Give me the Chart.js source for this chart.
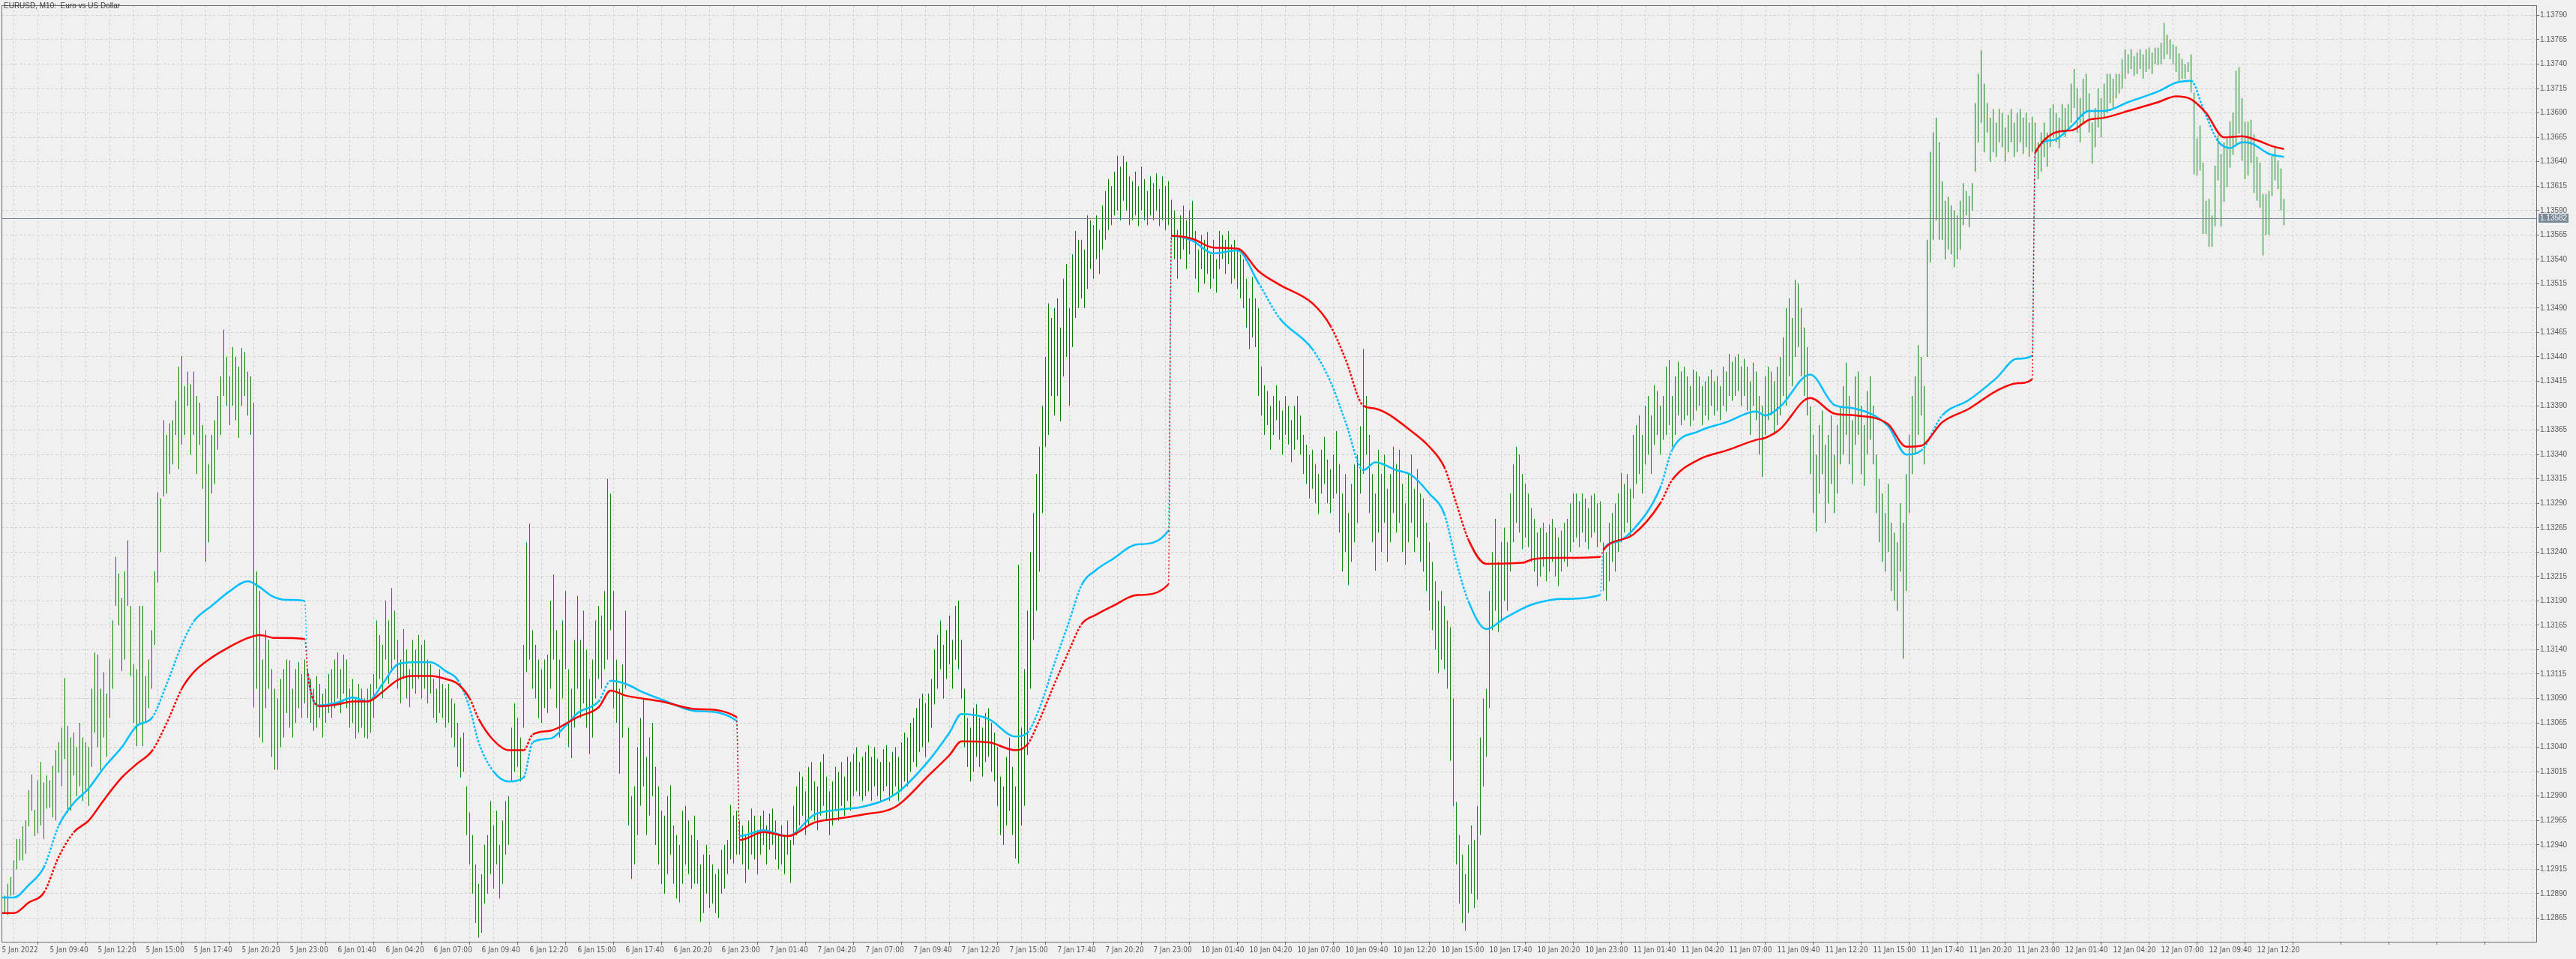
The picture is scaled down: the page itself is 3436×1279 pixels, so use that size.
<!DOCTYPE html>
<html>
<head>
<meta charset="utf-8">
<script src="https://cdn.jsdelivr.net/npm/chart.js@4.4.1/dist/chart.umd.min.js"></script>
<style>
  html, body { margin: 0; padding: 0; background: #f0f0f0; overflow: hidden; }
  canvas { display: block; }
</style>
</head>
<body>
<canvas id="chart" width="3436" height="1279"></canvas>
<script>
// EURUSD M10 bars, values in points (0.00001) above 1.12800, [low, high] per bar
const BASE = 1.128;
const PT = 0.00001;
const dayStart = [0, 102, 246, 390, 534, 678];

const day5 = [[70,88],[70,88],[68,100],[88,107],[89,124],[115,146],[124,146],[124,159],[131,165],[159,196],
  [175,212],[149,176],[152,206],[160,225],[146,204],[177,211],[178,206],[168,221],[165,237],[214,245],
  [200,260],[228,311],[173,262],[175,250],[211,255],[190,240],[200,265],[185,250],[196,245],[180,240],
  [220,300],[255,337],[240,335],[215,300],[250,317],[230,295],[270,330],[300,370],[385,435],[365,418],
  [318,393],[330,420],[385,452],[313,385],[265,325],[241,320],[265,385],[241,385],[265,313],[280,330],
  [300,360],[345,420],[409,501],[440,495],[497,575],[500,560],[520,572],[530,575],[560,595],[525,630],
  [550,641],[560,610],[590,625],[540,612],[560,625],[520,600],[550,593],[505,570],[430,560],[450,530],
  [500,560],[510,575],[545,600],[560,620],[600,668],[590,640],[570,620],[590,650],[575,640],[557,630],
  [590,649],[600,645],[580,625],[560,620],[281,593],[300,420],[250,400],[245,330],[280,360],[300,350],
  [230,320],[217,300],[217,290],[240,310],[250,320],[275,330],[260,329],[250,300],[265,320],[280,327],
  [270,315],[285,330]];

const day6 = [[270,320],[265,310],[257,300],[260,313],[270,305],[250,295],[265,300],[275,315],[270,320],[280,330],
  [290,337],[275,320],[295,335],[280,330],[260,300],[265,310],[249,290],[255,305],[260,300],[250,290],
  [249,300],[255,305],[270,315],[300,370],[310,355],[290,345],[330,390],[305,370],[320,403],[330,380],
  [300,350],[285,330],[310,361],[290,340],[281,320],[300,350],[295,340],[310,355],[290,345],[300,350],
  [285,330],[295,325],[270,310],[265,300],[275,320],[270,305],[260,300],[265,305],[250,290],[240,285],
  [220,265],[209,250],[215,255],[150,200],[120,173],[90,150],[60,120],[45,100],[50,110],[80,140],
  [90,150],[110,185],[95,160],[120,175],[85,140],[100,165],[130,185],[140,190],[205,260],[215,285],
  [220,270],[205,250],[260,345],[317,450],[330,469],[300,360],[290,345],[270,330],[265,320],[280,330],
  [275,335],[300,390],[330,417],[280,360],[250,330],[290,370],[320,400],[240,320],[229,300],[260,350],
  [300,395],[270,350],[285,380],[260,340],[233,310],[250,330],[290,370],[310,385],[300,375],[320,400],
  [330,515],[360,500],[280,400],[265,330],[213,300],[250,325],[300,380],[160,260],[105,190],[120,200],
  [150,240],[180,270],[200,289],[150,230],[170,250],[190,265],[140,220],[120,200],[100,175],[90,170],
  [110,190],[130,201],[100,160],[85,150],[81,140],[100,175],[120,180],[110,165],[95,150],[100,170],
  [100,145],[61,120],[70,130],[90,140],[75,130],[80,120],[70,110],[65,115],[90,135],[95,140],
  [110,145],[125,181],[121,170],[130,175]];

const day7 = [[130,165],[120,160],[101,150],[115,165],[130,177],[125,170],[110,155],[130,170],[140,175],[120,160],
  [135,172],[140,177],[125,165],[115,150],[120,160],[110,150],[130,165],[101,145],[140,180],[150,200],
  [160,215],[170,210],[150,195],[160,220],[175,225],[165,205],[155,200],[170,225],[180,233],[165,210],
  [150,195],[160,205],[175,220],[165,215],[180,225],[170,210],[185,230],[175,225],[190,233],[195,240],
  [190,225],[185,230],[190,235],[195,242],[185,230],[200,240],[190,228],[184,225],[195,238],[200,242],
  [185,225],[190,235],[200,240],[185,230],[195,245],[205,255],[200,250],[215,265],[225,270],[220,280],
  [235,290],[240,295],[230,285],[245,295],[260,310],[284,340],[300,355],[320,370],[290,345],[310,360],
  [325,375],[300,350],[330,385],[320,390],[290,350],[240,300],[220,270],[205,260],[215,280],[230,284],
  [220,270],[210,260],[225,275],[230,280],[215,265],[205,255],[180,240],[150,210],[140,200],[160,230],
  [175,250],[150,220],[126,200],[121,427],[160,260],[180,320],[232,380],[300,440],[350,480],[380,520],
  [420,548],[480,590],[548,640],[560,695],[600,680],[580,690],[600,700],[574,670],[620,720],[640,735],
  [590,690],[650,745],[680,769],[690,760],[700,760],[690,750],[710,785],[730,780],[720,775],[740,785],
  [725,770],[750,795],[760,810],[770,822],[775,815],[785,830],[790,846],[780,835],[800,846],[790,840],
  [775,825],[780,820],[785,830],[774,815],[790,835],[780,822],[775,810],[785,825],[780,818],[790,828],
  [774,812],[780,825],[770,815],[775,820]];

const day10 = [[760,801],[740,790],[720,770],[740,785],[750,795],[730,780],[745,790],[760,800],[720,769],[706,750],
  [730,765],[715,760],[725,768],[710,745],[720,760],[706,740],[730,769],[740,765],[725,760],[735,769],
  [715,755],[720,760],[710,750],[700,745],[690,740],[670,720],[648,700],[660,722],[650,700],[600,690],
  [580,630],[560,611],[570,605],[545,590],[560,600],[575,611],[555,595],[540,585],[560,600],[550,590],
  [532,575],[545,590],[555,600],[540,580],[520,560],[510,550],[495,540],[505,545],[490,530],[479,520],
  [500,545],[510,558],[490,535],[480,525],[495,540],[500,564],[460,530],[420,500],[440,520],[406,480],
  [430,510],[450,530],[470,540],[500,569],[520,648],[540,600],[480,560],[450,520],[421,500],[460,545],
  [440,520],[470,540],[430,505],[450,520],[480,548],[460,530],[470,545],[440,510],[427,490],[450,520],
  [470,540],[440,505],[455,525],[430,500],[420,495],[400,470],[380,450],[360,430],[340,410],[316,390],
  [330,400],[320,385],[300,370],[226,363],[180,290],[120,184],[80,150],[60,130],[52,110],[70,140],
  [90,160],[75,145],[84,180],[150,250],[200,290],[230,300],[280,400],[360,440],[380,474],[358,430],
  [370,450],[390,465],[380,450],[420,500],[450,530],[470,548],[460,540],[443,520],[455,510],[445,500],
  [430,485],[420,474],[405,460],[415,465],[425,470],[410,460],[420,468],[430,474],[415,465],[405,455],
  [420,462],[430,470],[425,474],[440,490],[450,500],[455,500],[445,492],[460,500],[450,495],[443,485],
  [455,498],[460,500],[445,490],[450,492]];

const day11 = [[400,450],[390,440],[410,470],[430,480],[420,490],[440,500],[450,521],[460,510],[470,520],[455,505],
  [495,560],[510,570],[520,580],[500,560],[530,590],[540,600],[520,580],[550,611],[560,605],[540,590],
  [555,600],[560,630],[570,637],[548,600],[560,620],[580,635],[570,625],[575,630],[580,620],[569,610],
  [575,627],[585,625],[590,620],[570,610],[580,615],[575,620],[590,627],[580,615],[585,620],[575,610],
  [590,630],[584,625],[600,643],[595,635],[600,640],[605,643],[590,630],[600,638],[585,630],[560,615],
  [590,634],[575,625],[540,600],[517,590],[560,620],[575,630],[580,625],[560,615],[570,630],[580,640],
  [600,660],[590,690],[620,700],[610,680],[640,719],[650,715],[620,690],[600,670],[580,650],[520,589],
  [480,560],[461,540],[500,570],[520,585],[470,550],[490,560],[510,580],[480,540],[500,570],[530,589],
  [540,610],[560,634],[530,600],[510,575],[550,620],[560,625],[520,590],[508,570],[540,605],[555,620],
  [530,590],[480,540],[450,515],[430,500],[420,480],[440,510],[400,470],[390,460],[380,450],[420,490],
  [331,470],[400,520],[480,560],[520,600],[540,620],[560,652],[580,640],[530,610],[640,760],[737,850],
  [760,870],[780,885],[760,860],[760,820],[740,800],[750,804],[745,795],[732,790],[740,785],[750,800],
  [775,818],[785,810],[773,805],[790,818],[830,900],[860,930],[880,954],[850,920],[870,900],[840,885],
  [850,894],[845,880],[860,894],[855,890],[840,875],[850,888],[860,894],[845,880],[850,890],[860,894],
  [848,885],[855,890],[845,880],[850,886]];

const day12 = [[840,880],[822,860],[830,870],[845,880],[835,870],[855,895],[865,899],[860,890],[854,885],[870,899],
  [865,895],[875,899],[880,920],[895,935],[870,915],[860,905],[880,925],[890,930],[870,910],[838,880],
  [855,895],[875,915],[865,905],[885,920],[890,930],[900,930],[895,925],[905,930],[910,930],[915,945],
  [925,955],[930,950],[935,955],[928,948],[930,952],[935,955],[925,950],[932,955],[935,957],[930,952],
  [940,957],[939,957],[940,962],[945,982],[950,970],[945,965],[940,960],[932,958],[923,951],[925,945],
  [925,940],[932,942],[911,950],[827,911],[826,864],[831,877],[766,839],[766,800],[753,802],[753,785],
  [774,836],[821,867],[774,848],[799,860],[814,864],[834,881],[847,890],[857,933],[869,937],[841,905],
  [822,881],[826,881],[839,883],[808,868],[800,845],[793,839],[744,807],[765,807],[765,810],[805,846],
  [821,854],[812,841],[790,833],[775,802]];

// daily-reset averages, [bar index, points]
const cyanLine = [[0,86],[4,86],[9,99],[14,117],[19,160],[24,183],[29,198],[34,219],[40,240],[45,262],[50,270],
  [55,305],[60,345],[64,369],[70,385],[76,400],[82,410],[86,404],[90,395],[95,391],[101,390],
  [102,316],[106,283],[112,286],[117,291],[122,287],[127,305],[132,325],[137,327],[143,327],[148,318],
  [152,309],[156,280],[159,245],[164,215],[169,205],[174,209],[177,245],[183,249],[188,262],[192,275],
  [199,287],[203,308],[208,305],[214,296],[220,289],[232,277],[245,267],
  [246,149],[254,155],[262,149],[271,171],[279,176],[287,179],[298,192],[309,226],[316,255],[320,274],
  [329,269],[338,251],[342,255],[346,280],[351,326],[356,370],[360,406],[365,422],[370,432],[379,448],[389,462],
  [390,764],[397,759],[404,746],[412,749],[419,716],[426,680],[437,648],[443,615],[448,574],[454,524],
  [458,532],[465,524],[470,519],[476,500],[481,479],[485,430],[489,390],[495,361],[501,372],[507,382],
  [511,387],[520,392],[533,396],
  [534,442],[538,450],[544,463],[553,506],[557,545],[566,564],[575,573],[585,584],[588,580],[593,589],
  [603,622],[611,591],[618,587],[629,569],[635,540],[640,544],[647,580],[656,596],[665,618],[672,638],[677,641],
  [678,849],[684,862],[690,876],[696,892],[701,892],[709,901],[719,912],[725,921],[730,923],[734,895],
  [739,861],[743,854],[747,860],[750,859],[756,848],[761,845]];

const redLine = [[0,70],[4,70],[9,81],[14,91],[19,128],[24,153],[29,165],[34,186],[40,209],[45,223],[50,236],
  [55,265],[60,300],[64,317],[70,332],[76,343],[82,352],[86,355],[91,352],[101,351],
  [102,315],[106,282],[112,284],[117,287],[122,287],[127,297],[132,309],[137,313],[143,313],[148,310],
  [152,305],[156,290],[159,269],[164,247],[169,237],[174,237],[177,253],[183,257],[192,271],[199,281],
  [203,298],[208,293],[220,287],[232,279],[245,271],
  [246,145],[254,153],[262,149],[271,163],[279,167],[287,171],[298,179],[309,211],[316,232],[320,246],
  [329,245],[338,237],[342,243],[346,268],[351,305],[356,340],[360,366],[365,376],[370,384],[379,396],[389,407],
  [390,764],[397,761],[404,752],[412,751],[419,728],[426,714],[437,695],[443,672],[448,638],[454,590],
  [458,587],[470,564],[476,548],[481,527],[485,490],[489,453],[495,428],[507,429],[511,433],[520,434],[533,435],
  [534,442],[544,458],[553,490],[557,514],[566,535],[575,544],[585,555],[588,557],[593,566],[603,598],
  [611,582],[618,580],[629,571],[635,548],[640,549],[647,573],[656,587],[665,605],[672,613],[677,617],
  [678,849],[690,872],[696,883],[701,885],[709,892],[719,901],[725,907],[730,904],[735,890],[741,865],
  [747,866],[752,862],[757,856],[761,853]];

const timeLabels = ['5 Jan 2022','5 Jan 09:40','5 Jan 12:20','5 Jan 15:00','5 Jan 17:40','5 Jan 20:20','5 Jan 23:00',
  '6 Jan 01:40','6 Jan 04:20','6 Jan 07:00','6 Jan 09:40','6 Jan 12:20','6 Jan 15:00','6 Jan 17:40','6 Jan 20:20','6 Jan 23:00',
  '7 Jan 01:40','7 Jan 04:20','7 Jan 07:00','7 Jan 09:40','7 Jan 12:20','7 Jan 15:00','7 Jan 17:40','7 Jan 20:20','7 Jan 23:00',
  '10 Jan 01:40','10 Jan 04:20','10 Jan 07:00','10 Jan 09:40','10 Jan 12:20','10 Jan 15:00','10 Jan 17:40','10 Jan 20:20','10 Jan 23:00',
  '11 Jan 01:40','11 Jan 04:20','11 Jan 07:00','11 Jan 09:40','11 Jan 12:20','11 Jan 15:00','11 Jan 17:40','11 Jan 20:20','11 Jan 23:00',
  '12 Jan 01:40','12 Jan 04:20','12 Jan 07:00','12 Jan 09:40','12 Jan 12:20'];

const priceTicks = [1.12865,1.12890,1.12915,1.12940,1.12965,1.12990,1.13015,1.13040,1.13065,1.13090,
  1.13115,1.13140,1.13165,1.13190,1.13215,1.13240,1.13265,1.13290,1.13315,1.13340,1.13365,1.13390,
  1.13415,1.13440,1.13465,1.13490,1.13515,1.13540,1.13565,1.13590,1.13615,1.13640,1.13665,1.13690,
  1.13715,1.13740,1.13765,1.13790];

const lastPrice = 1.13582;
const title = 'EURUSD, M10:  Euro vs US Dollar';

// build datasets
const days = [day5, day6, day7, day10, day11, day12];
const barData = [];
days.forEach((d, k) => {
  d.forEach((b, j) => {
    barData.push({ x: dayStart[k] + j, y: [BASE + b[0] * PT, BASE + b[1] * PT] });
  });
});
const toXY = arr => arr.map(p => ({ x: p[0], y: BASE + p[1] * PT }));

const FRAME = '#6e6e6e';
const TEXT = '#5a5a5a';

// thin dotted segment where the line jumps at a new day, dashed where it is steep
const isJump = c => Math.abs(c.p1.parsed.x - c.p0.parsed.x) <= 1;
const slope = c => Math.abs(c.p1.y - c.p0.y) / Math.max(1, Math.abs(c.p1.x - c.p0.x));
const lineSegment = {
  borderWidth: c => isJump(c) ? 1.5 : 2.5,
  borderDash: c => isJump(c) ? [2, 3] : (slope(c) > 1.6 ? [3, 2] : undefined)
};

// background, frame, title and last price marker
const decorPlugin = {
  id: 'decor',
  beforeDraw(chart) {
    const c = chart.ctx;
    c.save();
    c.fillStyle = '#f0f0f0';
    c.fillRect(0, 0, chart.width, chart.height);
    c.restore();
  },
  afterDatasetsDraw(chart) {
    const c = chart.ctx;
    const a = chart.chartArea;
    const y = Math.round(chart.scales.y.getPixelForValue(lastPrice)) + 0.5;
    c.save();
    c.strokeStyle = '#778899';
    c.lineWidth = 1;
    c.beginPath();
    c.moveTo(a.left, y);
    c.lineTo(a.right, y);
    c.stroke();
    c.restore();
  },
  afterDraw(chart) {
    const c = chart.ctx;
    const a = chart.chartArea;
    c.save();
    c.strokeStyle = FRAME;
    c.lineWidth = 1;
    c.strokeRect(Math.round(a.left) + 0.5, Math.round(a.top) + 0.5,
      Math.round(a.right - a.left), Math.round(a.bottom - a.top));
    // title
    c.fillStyle = '#3a3a3a';
    c.font = '10px "Liberation Sans", Arial, sans-serif';
    c.textBaseline = 'top';
    c.fillText(title, 5, 3);
    // price tag
    const y = Math.round(chart.scales.y.getPixelForValue(lastPrice));
    c.fillStyle = '#778899';
    c.fillRect(a.right + 3, y - 6, 40, 12);
    c.fillStyle = '#ffffff';
    c.textBaseline = 'middle';
    c.fillText(lastPrice.toFixed(5), a.right + 5, y + 0.5);
    c.restore();
  }
};

const ctx = document.getElementById('chart');
new Chart(ctx, {
  type: 'bar',
  data: {
    datasets: [
      {
        type: 'line',
        data: toXY(redLine),
        borderColor: '#ff0000',
        borderWidth: 2.5,
        pointRadius: 0,
        cubicInterpolationMode: 'monotone',
        segment: lineSegment,
        order: 1
      },
      {
        type: 'line',
        data: toXY(cyanLine),
        borderColor: '#00bfff',
        borderWidth: 2.5,
        pointRadius: 0,
        cubicInterpolationMode: 'monotone',
        segment: lineSegment,
        order: 2
      },
      {
        type: 'bar',
        data: barData,
        backgroundColor: '#008000',
        borderWidth: 0,
        barThickness: 1,
        inflateAmount: 0,
        order: 3
      }
    ]
  },
  options: {
    responsive: false,
    animation: false,
    devicePixelRatio: 1,
    layout: { padding: { left: 2, top: 2, right: 0, bottom: 0 } },
    plugins: {
      legend: { display: false },
      tooltip: { enabled: false }
    },
    scales: {
      x: {
        type: 'linear',
        min: -0.125,
        max: 845.125,
        offset: false,
        afterBuildTicks: s => {
          const t = [{ value: 0 }];
          for (let i = 8; i <= 840; i += 8) t.push({ value: i });
          s.ticks = t;
        },
        afterFit: s => { s.height = 23; },
        grid: {
          color: ctx => (ctx.tick && ctx.tick.value === 0) ? 'rgba(0,0,0,0)' : '#cfcfcf',
          tickColor: ctx => (ctx.tick && ctx.tick.value % 16 === 0) ? FRAME : 'rgba(0,0,0,0)',
          tickLength: 4,
          drawTicks: true
        },
        border: { display: true, color: FRAME, dash: [3, 3] },
        ticks: {
          autoSkip: false,
          maxRotation: 0,
          minRotation: 0,
          align: 'start',
          padding: 1,
          color: TEXT,
          font: { family: '"Liberation Sans Narrow", "DejaVu Sans Condensed", sans-serif', size: 10 },
          callback: v => (v % 16 === 0 && timeLabels[v / 16]) ? timeLabels[v / 16] : ''
        }
      },
      y: {
        position: 'right',
        min: 1.128407,
        max: 1.1380033,
        afterBuildTicks: s => { s.ticks = priceTicks.map(v => ({ value: v })); },
        afterFit: s => { s.width = 53; },
        grid: {
          color: '#cfcfcf',
          tickColor: FRAME,
          tickLength: 4
        },
        border: { display: true, color: FRAME, dash: [3, 3] },
        ticks: {
          padding: 1,
          color: TEXT,
          font: { family: '"Liberation Sans", Arial, sans-serif', size: 10 },
          callback: v => Number(v).toFixed(5)
        }
      }
    }
  },
  plugins: [decorPlugin]
});
</script>
</body>
</html>
